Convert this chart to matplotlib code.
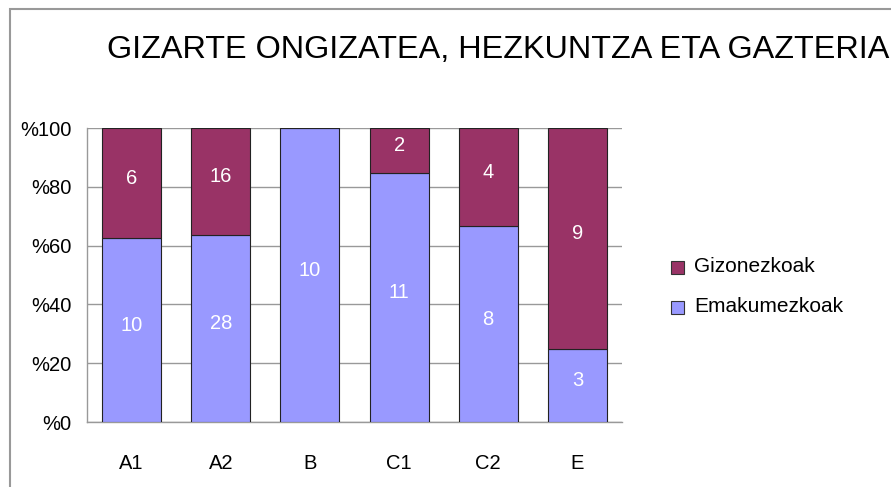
import matplotlib
matplotlib.use("Agg")
import matplotlib.pyplot as plt
from matplotlib.patches import Rectangle
import numpy as np

plt.rcParams['font.family'] = ['Liberation Sans', 'DejaVu Sans']

categories = ["A1", "A2", "B", "C1", "C2", "E"]
emakumezkoak = [10, 28, 10, 11, 8, 3]
gizonezkoak = [6, 16, 0, 2, 4, 9]
yticks = [0, 20, 40, 60, 80, 100]
ytick_labels = ["%0", "%20", "%40", "%60", "%80", "%100"]
title = "GIZARTE ONGIZATEA, HEZKUNTZA ETA GAZTERIA"

col_w = "#9999FF"
col_m = "#993366"

W, H = 891, 487
fig = plt.figure(figsize=(W/100, H/100), dpi=100)
fig.patch.set_facecolor("white")

# outer chart border
fig.add_artist(Rectangle((10/W, -0.1), 1.2, (H-9)/H + 0.1, transform=fig.transFigure,
                         fill=False, edgecolor="#999999", linewidth=1.5))

ax = fig.add_axes([87/W, 1-422/H, (622-87)/W, (422-128)/H])
x = np.arange(len(categories))
tot = np.array(emakumezkoak) + np.array(gizonezkoak)
pw = np.array(emakumezkoak) / tot * 100
pm = np.array(gizonezkoak) / tot * 100

ax.bar(x, pw, width=0.66, color=col_w, edgecolor="#222222", linewidth=0.8, zorder=3)
ax.bar(x, pm, bottom=pw, width=0.66, color=col_m, edgecolor="#222222", linewidth=0.8, zorder=3)

for i in range(len(categories)):
    if emakumezkoak[i] > 0:
        ax.annotate(str(emakumezkoak[i]), (x[i], pw[i]/2), xytext=(0, 3.5),
                    textcoords="offset points", ha="center", va="center",
                    color="white", fontsize=14.5, zorder=4)
    if gizonezkoak[i] > 0:
        ax.annotate(str(gizonezkoak[i]), (x[i], pw[i] + pm[i]/2), xytext=(0, 3.5),
                    textcoords="offset points", ha="center", va="center",
                    color="white", fontsize=14.5, zorder=4)

ax.set_xlim(-0.5, len(categories) - 0.5)
ax.set_ylim(0, 100)
ax.set_yticks(yticks)
ax.set_yticklabels(ytick_labels, fontsize=14.5)
ax.set_xticks(x)
ax.set_xticklabels(categories, fontsize=14.5)
ax.tick_params(axis="y", length=0, pad=11)
ax.tick_params(axis="x", length=0, pad=23)
ax.yaxis.grid(True, color="#999999", linewidth=1, zorder=0)
ax.set_axisbelow(True)
for s in ["top", "right"]:
    ax.spines[s].set_visible(False)
for s in ["left", "bottom"]:
    ax.spines[s].set_color("#999999")
    ax.spines[s].set_linewidth(1)

fig.text(498/W, 1-50/H, title, ha="center", va="center", fontsize=23.3)

# legend
for j, (lab, c) in enumerate([("Gizonezkoak", col_m), ("Emakumezkoak", col_w)]):
    yc = 267 + j*40
    fig.add_artist(Rectangle((671/W, 1-(yc+7)/H), 13/W, 13/H, transform=fig.transFigure,
                             facecolor=c, edgecolor="#333333", linewidth=0.8))
    fig.text(694/W, 1-(yc-1)/H, lab, ha="left", va="center", fontsize=15)

fig.savefig("out.png", dpi=100)
